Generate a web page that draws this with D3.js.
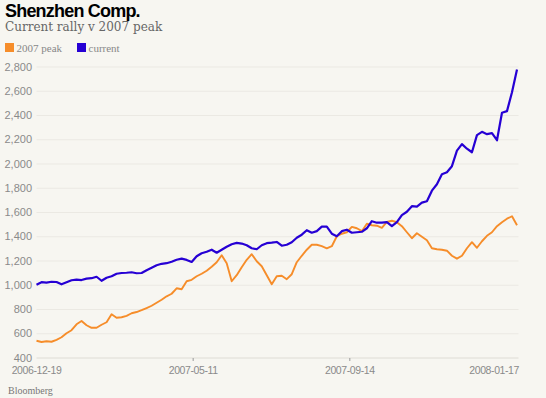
<!DOCTYPE html>
<html>
<head>
<meta charset="utf-8">
<script src="https://cdn.jsdelivr.net/npm/d3@7"></script>
<style>
  body { margin: 0; background: #f7f6f1; }
  svg { display: block; }
</style>
</head>
<body>
<div id="graph1"></div>
<script>
// values, one point every ~5px of the x range (trading-day index)
const peak2007 = [542, 532, 538, 534, 550, 571, 604, 629, 678, 705,
    670, 649, 649, 674, 695, 761, 732, 736, 748, 769,
    779, 794, 812, 831, 856, 880, 909, 930, 975, 967,
    1033, 1045, 1074, 1095, 1120, 1153, 1190, 1248, 1182, 1033,
    1083, 1149, 1210, 1256, 1198, 1157, 1083, 1008, 1074, 1078,
    1050, 1091, 1190, 1243, 1293, 1334, 1334, 1322, 1305, 1322,
    1404, 1425, 1437, 1481, 1470, 1446, 1507, 1495, 1491, 1474,
    1522, 1532, 1520, 1487, 1437, 1388, 1429, 1400, 1371, 1305,
    1297, 1293, 1285, 1243, 1219, 1243, 1305, 1355, 1309, 1363,
    1408, 1437, 1487, 1520, 1549, 1569, 1495];

const current = [1004, 1025, 1021, 1029, 1027, 1008, 1025, 1041, 1047, 1043,
    1055, 1058, 1070, 1037, 1062, 1074, 1095, 1101, 1103, 1107,
    1099, 1101, 1124, 1144, 1165, 1177, 1182, 1194, 1210, 1220,
    1209, 1192, 1239, 1264, 1276, 1293, 1268, 1293, 1318, 1338,
    1349, 1344, 1330, 1305, 1297, 1330, 1347, 1351, 1357, 1326,
    1334, 1355, 1392, 1417, 1454, 1433, 1446, 1483, 1483, 1425,
    1404, 1446, 1458, 1433, 1437, 1441, 1470, 1528, 1516, 1516,
    1520, 1487, 1520, 1578, 1606, 1652, 1648, 1681, 1693, 1780,
    1833, 1916, 1932, 1982, 2110, 2164, 2126, 2097, 2238, 2265,
    2246, 2254, 2196, 2423, 2436, 2592, 2780];

const yTicks = [400, 600, 800, 1000, 1200, 1400, 1600, 1800, 2000, 2200, 2400, 2600, 2800];
const xTickLabels = ["2006-12-19", "2007-05-11", "2007-09-14", "2008-01-17"];
const xTickIndex = [0, 31.3, 62.6, 93.9];

const seriesNames = ["2007 peak", "current"];
const seriesColors = ["#f68d2a", "#2600d4"];

const width = 546, height = 398;
const margin = {top: 67, right: 29, bottom: 40, left: 36.5};

let svg = d3.select("#graph1")
    .append("svg")
    .attr("width", width)
    .attr("height", height);

svg.append("rect")
    .attr("width", width)
    .attr("height", height)
    .attr("fill", "#f7f6f1");

let x = d3.scaleLinear()
    .domain([0, current.length - 1])
    .range([margin.left, width - margin.right]);

let y = d3.scaleLinear()
    .domain([400, 2800])
    .range([height - margin.bottom, margin.top]);

// gridlines + y labels
let grid = svg.append("g");
grid.selectAll("line")
    .data(yTicks)
    .enter()
    .append("line")
    .attr("x1", x(0))
    .attr("x2", width - margin.right + 1.5)
    .attr("y1", d => y(d))
    .attr("y2", d => y(d))
    .attr("stroke", d => d == 400 ? "#dedcd5" : "#ebe9e3")
    .attr("stroke-width", 1);

grid.selectAll("text")
    .data(yTicks)
    .enter()
    .append("text")
    .attr("x", 32)
    .attr("y", d => y(d))
    .attr("dy", "0.33em")
    .style("text-anchor", "end")
    .style("font-family", "Liberation Sans, Arial, sans-serif")
    .style("font-size", "11px")
    .style("fill", "#8a8a8a")
    .text(d => d3.format(",")(d));

// x axis ticks and labels
let xAxis = svg.append("g");
xAxis.selectAll("line")
    .data(xTickIndex.slice(1, 3))
    .enter()
    .append("line")
    .attr("x1", d => x(d))
    .attr("x2", d => x(d))
    .attr("y1", y(400))
    .attr("y2", y(400) + 3)
    .attr("stroke", "#999");

xAxis.selectAll("text")
    .data(xTickLabels)
    .enter()
    .append("text")
    .attr("x", (d, i) => i == xTickLabels.length - 1 ? width - margin.right + 2 : x(xTickIndex[i]))
    .attr("y", 373.5)
    .style("text-anchor", (d, i) => i == xTickLabels.length - 1 ? "end" : "middle")
    .style("font-family", "Liberation Sans, Arial, sans-serif")
    .style("font-size", "10.5px")
    .style("letter-spacing", "-0.4px")
    .style("fill", "#8a8a8a")
    .text(d => d);

// the two lines
let line = d3.line()
    .x((d, i) => x(i))
    .y(d => y(d));

[peak2007, current].forEach(function(s, k) {
    svg.append("path")
        .datum(s)
        .attr("fill", "none")
        .attr("stroke", seriesColors[k])
        .attr("stroke-width", k == 1 ? 2.2 : 1.9)
        .attr("stroke-linejoin", "round")
        .attr("d", line);
});

// title, subtitle
svg.append("text")
    .attr("x", 5)
    .attr("y", 17)
    .style("font-family", "Liberation Sans, Arial, sans-serif")
    .style("font-weight", "bold")
    .style("font-size", "18px")
    .style("letter-spacing", "-0.8px")
    .style("fill", "#000")
    .text("Shenzhen Comp.");

svg.append("text")
    .attr("x", 5)
    .attr("y", 31)
    .style("font-family", "DejaVu Serif, Georgia, serif")
    .style("font-size", "12px")
    .style("fill", "#666")
    .text("Current rally v 2007 peak");

// legend
let legend = svg.append("g");
const legendX = [5, 77];
seriesNames.forEach(function(name, k) {
    legend.append("rect")
        .attr("x", legendX[k])
        .attr("y", 43)
        .attr("width", 9)
        .attr("height", 9)
        .attr("fill", seriesColors[k]);
    legend.append("text")
        .attr("x", legendX[k] + 11.5)
        .attr("y", 51.5)
        .style("font-family", "Liberation Serif, Times New Roman, serif")
        .style("font-size", "11px")
        .style("fill", "#888")
        .text(name);
});

svg.append("text")
    .attr("x", 8)
    .attr("y", 394)
    .style("font-family", "Liberation Serif, Times New Roman, serif")
    .style("font-size", "10px")
    .style("fill", "#777")
    .text("Bloomberg");
</script>
</body>
</html>
